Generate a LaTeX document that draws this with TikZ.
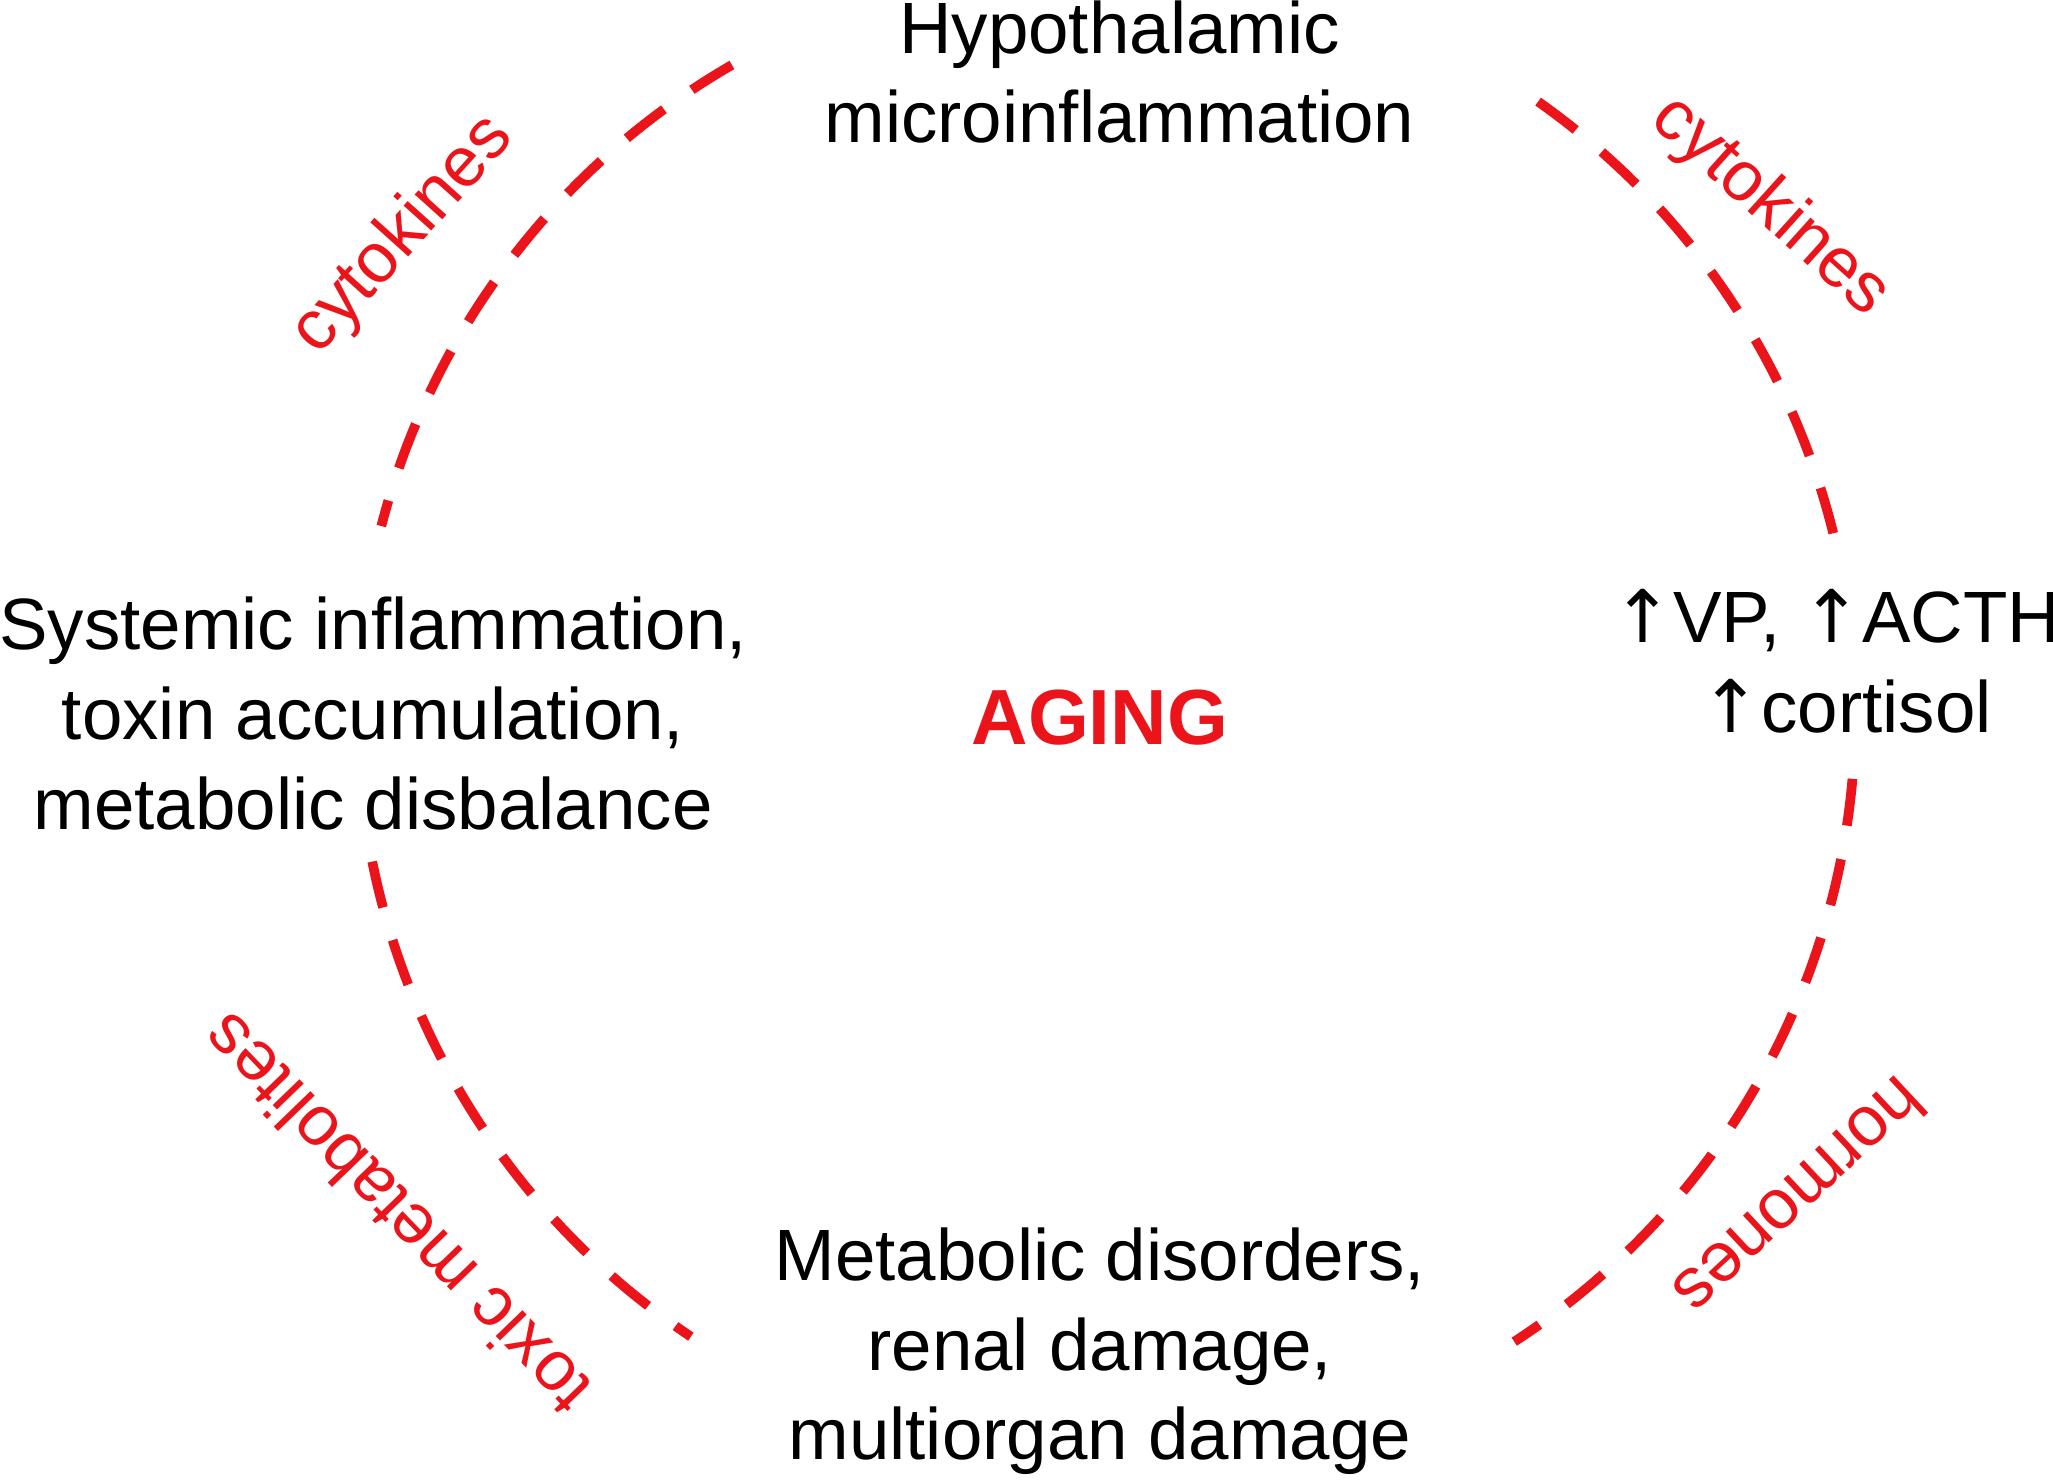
\documentclass[tikz,border=0pt]{standalone}
\usepackage{fontspec}
\setmainfont{Liberation Sans}
\newfontfamily\arrowfont{DejaVu Sans}
\usetikzlibrary{calc}
\definecolor{myred}{RGB}{235,20,27}
\newcommand{\uparr}{{\arrowfont ↑}}
\begin{document}
\begin{tikzpicture}[
  arcline/.style={myred,line width=2.1pt,dash pattern=on 0.36cm off 0.26cm},
  txt/.style={align=center,font=\fontsize{15.8}{19.5}\selectfont},
  lbl/.style={myred,font=\fontsize{15.3}{18}\selectfont}]
\useasboundingbox (0,0) rectangle (15.68,-11.30);
\coordinate (c) at (8.45,-5.45);
\def\R{5.72}
\draw[arcline] ($(c)+(120:\R)$) arc (120:165.5:\R);
\draw[arcline] ($(c)+(54.8:\R)$) arc (54.8:13.2:\R);
\draw[arcline] ($(c)+(-5:\R)$) arc (-5:-57:\R);
\draw[arcline] ($(c)+(191.4:\R)$) arc (191.4:236.3:\R);
\node[txt] (top) at (8.55,-0.55) {Hypothalamic\\microinflammation};
\node[txt] (left) at (2.85,-5.45) {Systemic inflammation,\\toxin accumulation,\\metabolic disbalance};
\node[txt] (right) at (14.1,-5.05) {\uparr VP, \uparr ACTH,\\\uparr cortisol};
\node[txt] (bot) at (8.4,-10.32) {Metabolic disorders,\\renal damage,\\multiorgan damage};
\node[myred,font=\fontsize{17}{20}\selectfont\bfseries] (aging) at (8.4,-5.48) {AGING};
\node[lbl,rotate=48] (l1) at (3.08,-1.80) {cytokines};
\node[lbl,rotate=-42] (l2) at (13.52,-1.58) {cytokines};
\node[lbl,rotate=223] (l3) at (13.75,-9.15) {hormones};
\node[lbl,rotate=134] (l4) at (3.02,-9.28) {toxic metabolites};
\end{tikzpicture}
\end{document}
